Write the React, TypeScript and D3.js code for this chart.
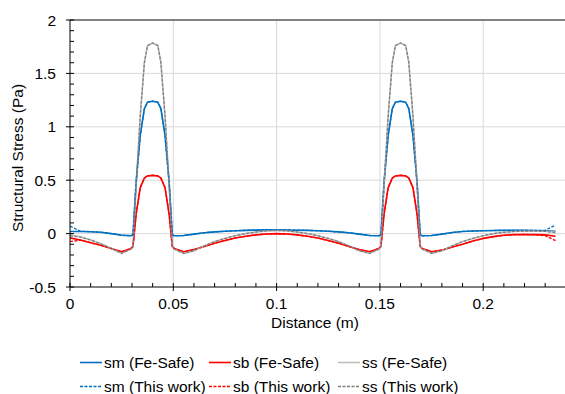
import React, { useEffect, useRef } from 'react';
import * as d3 from 'd3';

// distance along the path (m)
const distance = [
  0, 0.005, 0.01, 0.015, 0.02, 0.025, 0.0295, 0.0305, 0.032, 0.034, 0.036, 0.0375, 0.04, 0.0425, 0.044, 0.046,
  0.048, 0.0495, 0.0505, 0.055, 0.06, 0.065, 0.07, 0.075, 0.08, 0.085, 0.09, 0.095, 0.1, 0.105, 0.11, 0.115,
  0.12, 0.125, 0.13, 0.135, 0.14, 0.145, 0.1495, 0.1505, 0.152, 0.154, 0.156, 0.1575, 0.16, 0.1625, 0.164, 0.166,
  0.168, 0.1695, 0.1705, 0.175, 0.18, 0.185, 0.19, 0.195, 0.2, 0.205, 0.21, 0.215, 0.22, 0.225, 0.23, 0.235,
];

// Fe-Safe
const smFeSafe = [
  0.02, 0.02, 0.018, 0.012, 0.0, -0.015, -0.02, -0.01, 0.48, 0.92, 1.17, 1.23, 1.24, 1.23, 1.17, 0.92,
  0.48, -0.01, -0.02, -0.018, -0.005, 0.008, 0.016, 0.022, 0.026, 0.03, 0.033, 0.035, 0.035, 0.034, 0.032, 0.03,
  0.026, 0.022, 0.016, 0.008, -0.005, -0.018, -0.02, -0.01, 0.48, 0.92, 1.17, 1.23, 1.24, 1.23, 1.17, 0.92,
  0.48, -0.01, -0.02, -0.018, -0.005, 0.01, 0.02, 0.024, 0.027, 0.029, 0.03, 0.03, 0.03, 0.029, 0.027, 0.022,
];
const sbFeSafe = [
  -0.04, -0.06, -0.085, -0.11, -0.14, -0.17, -0.14, -0.12, 0.18, 0.43, 0.52, 0.54, 0.545, 0.54, 0.52, 0.43,
  0.18, -0.12, -0.14, -0.17, -0.15, -0.12, -0.09, -0.065, -0.042, -0.025, -0.012, -0.004, 0.0, -0.004, -0.012, -0.025,
  -0.042, -0.065, -0.09, -0.12, -0.15, -0.17, -0.14, -0.12, 0.18, 0.43, 0.52, 0.54, 0.545, 0.54, 0.52, 0.43,
  0.18, -0.12, -0.14, -0.17, -0.155, -0.125, -0.1, -0.07, -0.045, -0.028, -0.015, -0.01, -0.008, -0.01, -0.012, -0.025,
];
const ssFeSafe = [
  -0.01, -0.03, -0.06, -0.095, -0.14, -0.185, -0.145, -0.12, 0.45, 1.1, 1.6, 1.76, 1.785, 1.76, 1.6, 1.1,
  0.45, -0.12, -0.145, -0.185, -0.16, -0.115, -0.075, -0.045, -0.02, 0.0, 0.015, 0.025, 0.03, 0.025, 0.015, 0.0,
  -0.02, -0.045, -0.075, -0.115, -0.16, -0.185, -0.145, -0.12, 0.45, 1.1, 1.6, 1.76, 1.785, 1.76, 1.6, 1.1,
  0.45, -0.12, -0.145, -0.185, -0.16, -0.115, -0.075, -0.045, -0.02, 0.0, 0.012, 0.02, 0.024, 0.025, 0.022, 0.015,
];

// This work
const smThisWork = [
  0.07, 0.022, 0.018, 0.012, 0.0, -0.015, -0.02, -0.01, 0.48, 0.92, 1.17, 1.23, 1.24, 1.23, 1.17, 0.92,
  0.48, -0.01, -0.02, -0.018, -0.005, 0.008, 0.016, 0.022, 0.026, 0.03, 0.033, 0.035, 0.035, 0.034, 0.032, 0.03,
  0.026, 0.022, 0.016, 0.008, -0.005, -0.018, -0.02, -0.01, 0.48, 0.92, 1.17, 1.23, 1.24, 1.23, 1.17, 0.92,
  0.48, -0.01, -0.02, -0.018, -0.005, 0.01, 0.02, 0.024, 0.027, 0.029, 0.03, 0.03, 0.03, 0.029, 0.03, 0.08,
];
const sbThisWork = [
  -0.075, -0.062, -0.085, -0.11, -0.14, -0.17, -0.14, -0.12, 0.18, 0.43, 0.52, 0.54, 0.545, 0.54, 0.52, 0.43,
  0.18, -0.12, -0.14, -0.17, -0.15, -0.12, -0.09, -0.065, -0.042, -0.025, -0.012, -0.004, 0.0, -0.004, -0.012, -0.025,
  -0.042, -0.065, -0.09, -0.12, -0.15, -0.17, -0.14, -0.12, 0.18, 0.43, 0.52, 0.54, 0.545, 0.54, 0.52, 0.43,
  0.18, -0.12, -0.14, -0.17, -0.155, -0.125, -0.1, -0.07, -0.045, -0.028, -0.015, -0.01, -0.008, -0.01, -0.02, -0.065,
];
const ssThisWork = [
  -0.02, -0.032, -0.06, -0.095, -0.14, -0.185, -0.145, -0.12, 0.45, 1.1, 1.6, 1.76, 1.785, 1.76, 1.6, 1.1,
  0.45, -0.12, -0.145, -0.185, -0.16, -0.115, -0.075, -0.045, -0.02, 0.0, 0.015, 0.025, 0.03, 0.025, 0.015, 0.0,
  -0.02, -0.045, -0.075, -0.115, -0.16, -0.185, -0.145, -0.12, 0.45, 1.1, 1.6, 1.76, 1.785, 1.76, 1.6, 1.1,
  0.45, -0.12, -0.145, -0.185, -0.16, -0.115, -0.075, -0.045, -0.02, 0.0, 0.012, 0.02, 0.024, 0.025, 0.02, 0.01,
];

const xTicks = [0, 0.05, 0.1, 0.15, 0.2];
const xTickLabels = ['0', '0.05', '0.1', '0.15', '0.2'];
const yTicks = [-0.5, 0, 0.5, 1, 1.5, 2];
const yTickLabels = ['-0.5', '0', '0.5', '1', '1.5', '2'];

const seriesNames = ['sm (Fe-Safe)', 'sb (Fe-Safe)', 'ss (Fe-Safe)', 'sm (This work)', 'sb (This work)', 'ss (This work)'];
const seriesValues = [smFeSafe, sbFeSafe, ssFeSafe, smThisWork, sbThisWork, ssThisWork];
const seriesColors = ['#0070C0', '#FF0000', '#BFBFBF', '#0070C0', '#FF0000', '#7F7F7F'];
const seriesDashed = [false, false, false, true, true, true];

const W = 565;
const H = 394;
const FONT = 'Liberation Sans, Arial, sans-serif';
const FS = '15.5px';

export default function App() {
  const ref = useRef<SVGSVGElement>(null);

  useEffect(() => {
    const svg = d3.select(ref.current);
    svg.selectAll('*').remove();

    const margin = { top: 20, left: 70, bottom: 287 };
    const x = d3.scaleLinear().domain([0, 0.24]).range([margin.left, margin.left + 0.24 * 2066]);
    const y = d3.scaleLinear().domain([-0.5, 2]).range([margin.bottom, margin.top]);

    // gridlines
    svg.append('g')
      .selectAll('line')
      .data(yTicks.filter(d => d > -0.5 && d < 2))
      .enter()
      .append('line')
      .attr('x1', x(0))
      .attr('x2', W)
      .attr('y1', d => y(d))
      .attr('y2', d => y(d))
      .attr('stroke', '#D9D9D9')
      .attr('stroke-width', 1);

    svg.append('g')
      .selectAll('line')
      .data(xTicks.filter(d => d > 0))
      .enter()
      .append('line')
      .attr('x1', d => x(d))
      .attr('x2', d => x(d))
      .attr('y1', y(2))
      .attr('y2', y(-0.5))
      .attr('stroke', '#D9D9D9')
      .attr('stroke-width', 1);

    // top line
    svg.append('line')
      .attr('x1', x(0)).attr('x2', W)
      .attr('y1', y(2)).attr('y2', y(2))
      .attr('stroke', '#595959').attr('stroke-width', 1.5);

    // series
    const line = d3.line<number>()
      .x((_, i) => x(distance[i]))
      .y(d => y(d));

    seriesValues.forEach((vals, i) => {
      svg.append('path')
        .attr('d', line(vals) as string)
        .attr('fill', 'none')
        .attr('stroke', seriesColors[i])
        .attr('stroke-width', seriesDashed[i] ? 1.3 : 1.6)
        .attr('stroke-dasharray', seriesDashed[i] ? '3,1.5' : null)
        .attr('stroke-linejoin', 'round');
    });

    // axes
    const axisColor = '#000';
    svg.append('line')
      .attr('x1', x(0)).attr('x2', W)
      .attr('y1', y(-0.5)).attr('y2', y(-0.5))
      .attr('stroke', axisColor).attr('stroke-width', 1);
    svg.append('line')
      .attr('x1', x(0)).attr('x2', x(0))
      .attr('y1', y(2)).attr('y2', y(-0.5))
      .attr('stroke', axisColor).attr('stroke-width', 1);

    // x minor/major ticks
    const xMinor = d3.range(0, 24).map(d => d / 100);
    svg.append('g')
      .selectAll('line')
      .data(xMinor)
      .enter()
      .append('line')
      .attr('x1', d => x(d))
      .attr('x2', d => x(d))
      .attr('y1', (_, i) => (i % 5 === 0 ? y(-0.5) + 4 : y(-0.5)))
      .attr('y2', y(-0.5) - 4)
      .attr('stroke', axisColor);

    const yMinor = d3.range(-5, 21).map(d => d / 10);
    svg.append('g')
      .selectAll('line')
      .data(yMinor)
      .enter()
      .append('line')
      .attr('x1', (_, i) => (i % 5 === 0 ? x(0) - 4 : x(0)))
      .attr('x2', x(0) + 4)
      .attr('y1', d => y(d))
      .attr('y2', d => y(d))
      .attr('stroke', axisColor);

    // tick labels
    svg.append('g')
      .selectAll('text')
      .data(xTicks)
      .enter()
      .append('text')
      .attr('x', d => x(d))
      .attr('y', 309)
      .attr('text-anchor', 'middle')
      .style('font-family', FONT)
      .style('font-size', FS)
      .style('fill', '#000')
      .text((_, i) => xTickLabels[i]);

    svg.append('g')
      .selectAll('text')
      .data(yTicks)
      .enter()
      .append('text')
      .attr('x', 56)
      .attr('y', d => y(d) + 5.5)
      .attr('text-anchor', 'end')
      .style('font-family', FONT)
      .style('font-size', FS)
      .style('fill', '#000')
      .text((_, i) => yTickLabels[i]);

    // axis titles
    svg.append('text')
      .attr('x', 315)
      .attr('y', 328)
      .attr('text-anchor', 'middle')
      .style('font-family', FONT)
      .style('font-size', FS)
      .style('fill', '#000')
      .text('Distance (m)');

    svg.append('text')
      .attr('transform', 'translate(23,158) rotate(-90)')
      .attr('text-anchor', 'middle')
      .style('font-family', FONT)
      .style('font-size', FS)
      .style('fill', '#000')
      .text('Structural Stress (Pa)');

    // legend
    const legendX = [80, 209, 338];
    const legendY = [362.5, 386.5];
    const legend = svg.append('g');
    seriesNames.forEach((name, i) => {
      const lx = legendX[i % 3];
      const ly = legendY[Math.floor(i / 3)];
      legend.append('line')
        .attr('x1', lx).attr('x2', lx + 22)
        .attr('y1', ly).attr('y2', ly)
        .attr('stroke', seriesColors[i])
        .attr('stroke-width', seriesDashed[i] ? 1.3 : 1.6)
        .attr('stroke-dasharray', seriesDashed[i] ? '3,1.5' : null);
      legend.append('text')
        .attr('x', lx + 24)
        .attr('y', ly + 5.5)
        .style('font-family', FONT)
        .style('font-size', FS)
        .style('fill', '#000')
        .text(name);
    });
  }, []);

  return (
    <svg
      ref={ref}
      width={W}
      height={H}
      style={{ position: 'absolute', left: 0, top: 0, background: '#fff' }}
    />
  );
}
